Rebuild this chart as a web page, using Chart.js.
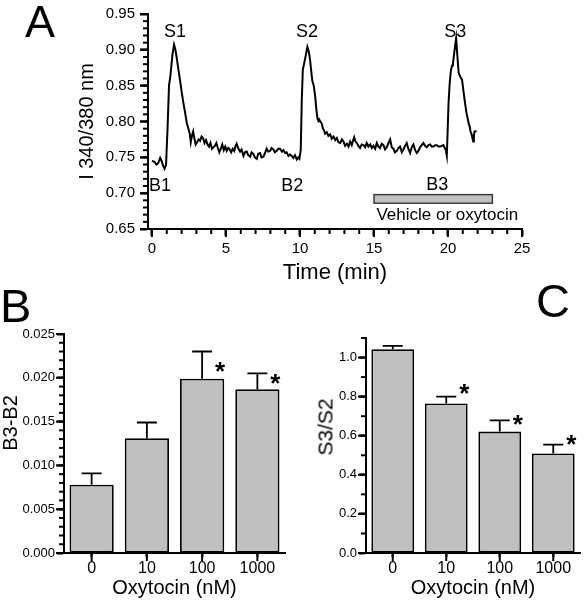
<!DOCTYPE html>
<html>
<head>
<meta charset="utf-8">
<script src="https://cdn.jsdelivr.net/npm/chart.js@4.4.1/dist/chart.umd.min.js"></script>
<style>
  html, body { margin: 0; padding: 0; background: #fff; overflow: hidden; }
  #fig { position: relative; width: 585px; height: 600px; font-family: 'Liberation Sans', Arial, sans-serif; color: #000; }
  canvas { position: absolute; }
  .panel { position: absolute; line-height: 1; }
  .ytitle { position: absolute; white-space: nowrap; line-height: 1; transform: translate(-50%, -50%) rotate(-90deg); }
</style>
</head>
<body>
<div id="fig">
  <canvas id="chartA" width="585" height="290" style="left:0;top:0"></canvas>
  <canvas id="chartB" width="295" height="310" style="left:0;top:290px"></canvas>
  <canvas id="chartC" width="290" height="310" style="left:295px;top:290px"></canvas>
  <div class="panel" style="left:25px;top:-1px;font-size:45px">A</div>
  <div class="panel" style="left:0px;top:282px;font-size:47px">B</div>
  <div class="panel" style="left:536px;top:277px;font-size:47px">C</div>
  <div class="ytitle" style="left:10px;top:423px;font-size:20px">B3-B2</div>
  <div class="ytitle" style="left:325px;top:427px;font-size:21px">S3/S2</div>
</div>
<script>
// ---- panel A: ratio trace ----
const timeA = [0.00,0.15,0.30,0.42,0.55,0.65,0.75,0.85,0.95,1.05,1.15,1.25,1.38,1.49,1.58,1.67,1.78,1.89,2.00,2.12,
  2.24,2.35,2.46,2.55,2.62,2.70,2.78,2.86,2.95,3.05,3.15,3.25,3.35,3.45,3.55,3.65,3.75,3.85,3.95,4.05,
  4.15,4.25,4.35,4.45,4.55,4.65,4.75,4.85,4.95,5.05,5.15,5.25,5.35,5.45,5.55,5.65,5.72,5.82,5.95,6.05,
  6.18,6.28,6.40,6.50,6.63,6.73,6.85,6.95,7.08,7.18,7.30,7.40,7.53,7.63,7.75,7.85,7.98,8.08,8.20,8.30,
  8.43,8.53,8.65,8.78,8.88,9.00,9.10,9.22,9.33,9.44,9.55,9.66,9.78,9.88,9.96,10.05,10.12,10.19,10.34,10.50,
  10.60,10.68,10.76,10.84,10.93,11.02,11.10,11.18,11.24,11.29,11.38,11.47,11.55,11.62,11.70,11.81,11.92,12.04,12.14,12.27,
  12.38,12.49,12.60,12.72,12.83,12.94,13.05,13.17,13.28,13.39,13.50,13.58,13.66,13.75,13.84,13.95,14.06,14.17,14.29,14.40,
  14.51,14.62,14.74,14.85,14.96,15.08,15.19,15.30,15.41,15.52,15.64,15.75,15.86,15.98,16.09,16.20,16.31,16.42,16.54,16.65,
  16.76,16.88,16.99,17.10,17.21,17.32,17.44,17.55,17.66,17.78,17.89,18.00,18.11,18.22,18.34,18.45,18.57,18.68,18.79,18.90,
  19.02,19.13,19.24,19.36,19.47,19.58,19.69,19.78,19.85,19.92,20.04,20.12,20.20,20.28,20.33,20.40,20.47,20.55,20.62,20.72,
  20.82,20.95,21.06,21.15,21.24,21.32,21.40,21.48,21.52,21.58,21.63,21.70,21.75,21.79,21.85,21.92];
const ratioA = [0.745,0.744,0.740,0.742,0.749,0.745,0.738,0.734,0.740,0.790,0.850,0.865,0.893,0.907,0.900,0.889,0.873,0.858,0.842,0.826,
  0.812,0.798,0.790,0.783,0.771,0.780,0.786,0.777,0.768,0.771,0.775,0.773,0.779,0.777,0.770,0.774,0.768,0.765,0.770,0.762,
  0.764,0.766,0.770,0.763,0.757,0.762,0.768,0.760,0.765,0.759,0.763,0.761,0.757,0.762,0.759,0.766,0.769,0.763,0.758,0.761,
  0.752,0.757,0.758,0.753,0.751,0.757,0.755,0.750,0.748,0.755,0.756,0.750,0.751,0.756,0.762,0.758,0.759,0.763,0.761,0.757,
  0.759,0.762,0.762,0.758,0.760,0.756,0.757,0.752,0.754,0.752,0.749,0.753,0.747,0.750,0.748,0.760,0.830,0.872,0.887,0.904,
  0.897,0.886,0.870,0.856,0.850,0.836,0.818,0.804,0.801,0.803,0.800,0.797,0.790,0.788,0.783,0.785,0.780,0.782,0.776,0.779,
  0.774,0.777,0.771,0.770,0.775,0.772,0.766,0.769,0.765,0.772,0.767,0.773,0.778,0.772,0.770,0.766,0.763,0.768,0.767,0.764,
  0.770,0.765,0.768,0.763,0.766,0.762,0.770,0.765,0.763,0.769,0.767,0.761,0.764,0.770,0.775,0.764,0.762,0.757,0.759,0.763,
  0.765,0.757,0.761,0.766,0.770,0.762,0.756,0.764,0.768,0.760,0.756,0.759,0.764,0.767,0.770,0.766,0.764,0.767,0.768,0.765,
  0.765,0.767,0.767,0.765,0.765,0.766,0.767,0.763,0.760,0.752,0.827,0.855,0.872,0.878,0.881,0.892,0.904,0.916,0.895,0.868,
  0.863,0.858,0.840,0.826,0.813,0.805,0.797,0.792,0.786,0.783,0.779,0.772,0.780,0.786,0.786,0.787];
const xTicksA = [0, 5, 10, 15, 20, 25];
const yTicksA = [0.65, 0.70, 0.75, 0.80, 0.85, 0.90, 0.95];
const drugPeriod = [15, 23];

// ---- panels B and C: bar summaries ----
const doses = ['0', '10', '100', '1000'];
const b3b2Mean = [0.0078, 0.0131, 0.0199, 0.0187];
const b3b2Sem = [0.0013, 0.0018, 0.0031, 0.0018];
const b3b2Star = [null, null, 0.0215, 0.0201];
const yTicksB = [0, 0.005, 0.010, 0.015, 0.020, 0.025];
const s3s2Mean = [1.043, 0.765, 0.621, 0.509];
const s3s2Sem = [0.017, 0.035, 0.058, 0.045];
const s3s2Star = [null, 0.85, 0.69, 0.59];
const yTicksC = [0, 0.2, 0.4, 0.6, 0.8, 1.0];

const FONT = "'Liberation Sans', Arial, sans-serif";
Chart.defaults.font.family = FONT;
Chart.defaults.color = '#000';

const useTicks = (arr) => (scale) => { scale.ticks = arr.map(v => ({ value: v })); };

// tick marks outside the plot: long ones at labelled values, short ones in between
function axisTicks(steps, majors) {
  return {
    id: 'axisTicks',
    afterDraw(chart) {
      const ctx = chart.ctx;
      const area = chart.chartArea;
      ctx.save();
      ctx.strokeStyle = '#000';
      ctx.lineWidth = 2;
      Object.keys(steps).forEach(id => {
        const s = chart.scales[id];
        const step = steps[id];
        const marks = [];
        if (step) {
          const first = Math.ceil(s.min / step - 1e-6);
          const last = Math.floor(s.max / step + 1e-6);
          for (let i = first; i <= last; i++) marks.push({ p: s.getPixelForValue(i * step), len: 5 });
        }
        (majors[id] || []).forEach(p => marks.push({ p: p(s), len: 8 }));
        marks.forEach(m => {
          ctx.beginPath();
          if (id === 'y') { ctx.moveTo(area.left, m.p); ctx.lineTo(area.left - m.len, m.p); }
          else { ctx.moveTo(m.p, area.bottom); ctx.lineTo(m.p, area.bottom + m.len); }
          ctx.stroke();
        });
      });
      ctx.restore();
    }
  };
}
const atValues = (vals) => vals.map(v => (s) => s.getPixelForValue(v));

// upper error bars and significance stars
function errorBars(sem, star) {
  return {
    id: 'errorBars',
    afterDatasetsDraw(chart) {
      const { ctx, scales: { y } } = chart;
      const vals = chart.data.datasets[0].data;
      ctx.save();
      ctx.strokeStyle = '#000';
      ctx.lineWidth = 1.8;
      chart.getDatasetMeta(0).data.forEach((bar, i) => {
        const top = y.getPixelForValue(vals[i] + sem[i]);
        ctx.beginPath();
        ctx.moveTo(bar.x, bar.y);
        ctx.lineTo(bar.x, top);
        ctx.moveTo(bar.x - 10, top);
        ctx.lineTo(bar.x + 10, top);
        ctx.stroke();
        if (star[i] != null) {
          const sy = y.getPixelForValue(star[i]);
          ctx.fillStyle = '#000';
          ctx.font = 'bold 26px ' + FONT;
          ctx.textAlign = 'center';
          ctx.textBaseline = 'alphabetic';
          ctx.fillText('*', bar.x + 18, sy + 15);
        }
      });
      ctx.restore();
    }
  };
}

// labels and treatment bar of panel A
const notesA = [
  { text: 'S1', t: 1.56, v: 0.925, size: 18 },
  { text: 'S2', t: 10.48, v: 0.925, size: 18 },
  { text: 'S3', t: 20.49, v: 0.925, size: 18 },
  { text: 'B1', t: 0.54, v: 0.710, size: 18 },
  { text: 'B2', t: 9.47, v: 0.710, size: 18 },
  { text: 'B3', t: 19.27, v: 0.712, size: 18 },
  { text: 'Vehicle or oxytocin', t: 19.95, v: 0.669, size: 17 }
];
const traceNotes = {
  id: 'traceNotes',
  afterDatasetsDraw(chart) {
    const { ctx, scales: { x, y } } = chart;
    ctx.save();
    const x0 = x.getPixelForValue(drugPeriod[0]);
    const x1 = x.getPixelForValue(drugPeriod[1]);
    const y0 = y.getPixelForValue(0.698);
    const y1 = y.getPixelForValue(0.686);
    ctx.fillStyle = '#c0c0c0';
    ctx.fillRect(x0, y0, x1 - x0, y1 - y0);
    ctx.strokeStyle = '#333';
    ctx.lineWidth = 1.4;
    ctx.strokeRect(x0, y0, x1 - x0, y1 - y0);
    ctx.fillStyle = '#000';
    ctx.textAlign = 'center';
    ctx.textBaseline = 'middle';
    notesA.forEach(n => {
      ctx.font = n.size + 'px ' + FONT;
      ctx.fillText(n.text, x.getPixelForValue(n.t), y.getPixelForValue(n.v));
    });
    ctx.restore();
  }
};

// the library keeps room for the marks; the plugin above paints them
const axisStyle = {
  border: { display: true, color: '#000', width: 2 },
  grid: { display: true, drawOnChartArea: false, drawTicks: true, tickColor: '#000', tickWidth: 2 }
};

new Chart(document.getElementById('chartA'), {
  type: 'line',
  data: {
    datasets: [{
      data: timeA.map((t, i) => ({ x: t, y: ratioA[i] })),
      borderColor: '#000',
      borderWidth: 2,
      pointRadius: 0,
      tension: 0
    }]
  },
  options: {
    responsive: false, animation: false, devicePixelRatio: 1,
    layout: { padding: { left: 0, top: 10, right: 63, bottom: 0 } },
    plugins: { legend: { display: false }, tooltip: { enabled: false } },
    scales: {
      x: {
        type: 'linear', min: -0.27, max: 25,
        ...axisStyle,
        grid: { ...axisStyle.grid, tickLength: 7 },
        afterBuildTicks: useTicks(xTicksA),
        afterFit: (s) => { s.height = 61; },
        ticks: { font: { size: 15 }, padding: 4, maxRotation: 0 },
        title: { display: true, text: 'Time (min)', font: { size: 22 }, padding: { top: 0, bottom: 4 } }
      },
      y: {
        min: 0.65, max: 0.95,
        ...axisStyle,
        grid: { ...axisStyle.grid, tickLength: 8 },
        afterBuildTicks: useTicks(yTicksA),
        afterFit: (s) => { s.width = 148; },
        ticks: { font: { size: 15 }, padding: 5, callback: v => v.toFixed(2) },
        title: { display: true, text: 'I 340/380 nm', font: { size: 20 }, padding: { top: 75, bottom: 0 } }
      }
    }
  },
  plugins: [axisTicks({ x: 1, y: 0.01 }, { x: atValues(xTicksA), y: atValues(yTicksA) }), traceNotes]
});

function barChart(id, mean, sem, star, yTicks, yMax, minorStep, yWidth, padRight, padTop, decimals) {
  return new Chart(document.getElementById(id), {
    type: 'bar',
    data: {
      labels: doses,
      datasets: [{
        data: mean,
        backgroundColor: '#c0c0c0',
        borderColor: '#000',
        borderWidth: 1.8,
        borderSkipped: false,
        barPercentage: 0.8,
        categoryPercentage: 1.0
      }]
    },
    options: {
      responsive: false, animation: false, devicePixelRatio: 1,
      layout: { padding: { left: 0, top: padTop, right: padRight, bottom: 0 } },
      plugins: { legend: { display: false }, tooltip: { enabled: false } },
      scales: {
        x: {
          ...axisStyle,
          grid: { ...axisStyle.grid, offset: false, tickLength: 4 },
          afterFit: (s) => { s.height = 47; },
          ticks: { font: { size: 16 }, padding: 2, maxRotation: 0 },
          title: { display: true, text: 'Oxytocin (nM)', font: { size: 20 }, padding: { top: 0, bottom: 0 } }
        },
        y: {
          min: 0, max: yMax,
          ...axisStyle,
          grid: { ...axisStyle.grid, tickLength: 7 },
          afterBuildTicks: useTicks(yTicks),
          afterFit: (s) => { s.width = yWidth; },
          ticks: { font: { size: 13 }, padding: 2, callback: v => v.toFixed(decimals) }
        }
      }
    },
    plugins: [
      axisTicks({ x: 0, y: minorStep }, { x: doses.map((d, i) => (s) => s.getPixelForValue(i)), y: atValues(yTicks) }),
      errorBars(sem, star)
    ]
  });
}

barChart('chartB', b3b2Mean, b3b2Sem, b3b2Star, yTicksB, 0.025, 0.001, 64, 10, 44, 3);
barChart('chartC', s3s2Mean, s3s2Sem, s3s2Star, yTicksC, 1.1, 0.1, 71, 5, 48, 1);
</script>
</body>
</html>
